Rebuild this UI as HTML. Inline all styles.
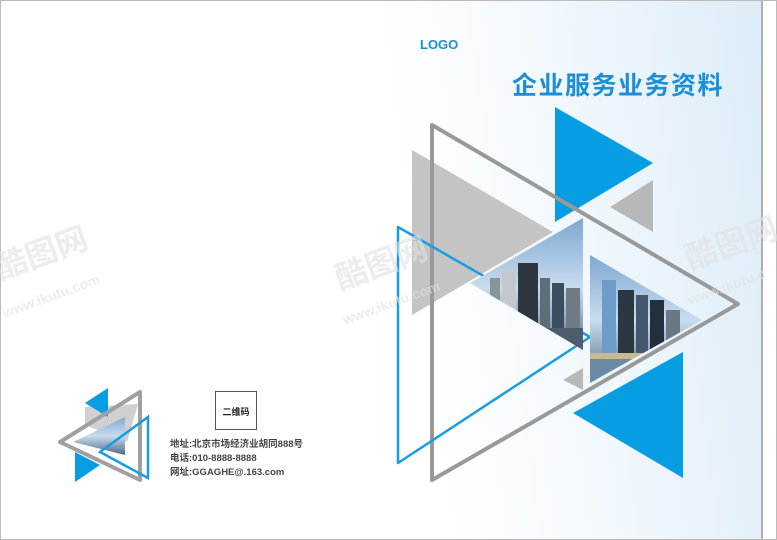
<!DOCTYPE html>
<html><head><meta charset="utf-8"><style>
html,body{margin:0;padding:0;background:#fff;}
svg{display:block;}
text{font-family:"Liberation Sans","Noto Sans CJK SC",sans-serif;}
</style></head><body>
<svg width="777" height="540" viewBox="0 0 777 540" xmlns="http://www.w3.org/2000/svg">
<defs>
<linearGradient id="bg" x1="0" y1="0.2" x2="1" y2="0">
<stop offset="0" stop-color="#ffffff"/><stop offset="0.45" stop-color="#f1f8fd"/><stop offset="1" stop-color="#dcecf8"/></linearGradient>
<linearGradient id="sky" x1="0" y1="0" x2="0" y2="1">
<stop offset="0" stop-color="#7ea8d2"/><stop offset="0.5" stop-color="#c9dcee"/><stop offset="1" stop-color="#4a6a86"/></linearGradient>
<pattern id="city" width="130" height="140" patternUnits="userSpaceOnUse" x="470" y="218">
<rect width="130" height="140" fill="url(#sky)"/>
<rect x="20" y="60" width="10" height="50" fill="#8a929c"/>
<rect x="32" y="50" width="14" height="60" fill="#c4c8ce"/>
<rect x="48" y="45" width="20" height="70" fill="#2e3640"/>
<rect x="70" y="60" width="10" height="55" fill="#5d6d7a"/>
<rect x="82" y="65" width="12" height="50" fill="#3b4d5e"/>
<rect x="96" y="70" width="14" height="45" fill="#707b86"/>
<rect x="0" y="110" width="130" height="30" fill="#4c5d6e"/>
</pattern>
<pattern id="city2" width="140" height="130" patternUnits="userSpaceOnUse" x="590" y="255">
<rect width="140" height="130" fill="url(#sky)"/>
<rect x="12" y="25" width="14" height="80" fill="#6d9ccb"/>
<rect x="28" y="35" width="16" height="70" fill="#2c3744"/>
<rect x="46" y="40" width="12" height="65" fill="#45586b"/>
<rect x="60" y="45" width="14" height="60" fill="#22303d"/>
<rect x="76" y="55" width="14" height="50" fill="#6a7784"/>
<rect x="0" y="100" width="140" height="30" fill="#6b8aa5"/>
<rect x="0" y="98" width="60" height="6" fill="#c9b98f"/>
</pattern>
</defs>
<rect width="777" height="540" fill="#fff"/>
<rect x="390" y="0" width="372" height="540" fill="url(#bg)"/>
<line x1="762" y1="0" x2="762" y2="540" stroke="#999" stroke-width="1.5"/>
<rect x="0.5" y="0.5" width="776" height="539" fill="none" stroke="#bbb" stroke-width="1"/>

<text x="420" y="49" font-size="13" font-weight="bold" fill="#1a8fd8">LOGO</text>
<text x="512" y="94" font-size="25" font-weight="bold" fill="#1a8fd8" letter-spacing="1.5">企业服务业务资料</text>

<polygon points="412,150 553,232 412,315" fill="#c4c4c4"/>
<polygon points="555,107 653,163 555,222" fill="#069de3"/>
<polygon points="610,207 653,180 653,232" fill="#b8b8b8"/>
<polygon points="432,125 738,304 432,480" fill="none" stroke="#999" stroke-width="4" stroke-linejoin="round"/>
<polygon points="398,227 590,337 398,463" fill="none" stroke="#169de3" stroke-width="2.5" stroke-linejoin="round"/>
<polygon points="470,283 583,218 583,350" fill="url(#city)"/>
<polygon points="590,255 702,320 590,383" fill="url(#city2)"/>
<polygon points="563,380 583,368 583,390" fill="#b8b8b8"/>
<polygon points="573,413 683,352 683,478" fill="#069de3"/>

<!-- small logo -->
<polygon points="85,407 138,404 127,442 85,425" fill="#d0d0d0"/>
<polygon points="85,403 108,388 108,417" fill="#069de3"/>
<polygon points="75,452 75,482 100,465" fill="#069de3"/>
<polygon points="60,442 140,392 140,480 Z" fill="none" stroke="#a0a0a0" stroke-width="4" stroke-linejoin="round"/>
<polygon points="73,442 125,417 125,455" fill="url(#sky)"/>
<polygon points="100,452 148,417 148,478" fill="none" stroke="#169de3" stroke-width="2.5"/>

<rect x="215.5" y="391.5" width="41" height="38" fill="#fff" stroke="#555" stroke-width="1"/>
<text x="236" y="415" font-size="9" font-weight="bold" fill="#222" text-anchor="middle">二维码</text>
<text x="170" y="447" font-size="9.5" font-weight="bold" fill="#444">地址:北京市场经济业胡同888号</text>
<text x="170" y="461" font-size="9.5" font-weight="bold" fill="#444">电话:010-8888-8888</text>
<text x="170" y="475" font-size="9.5" font-weight="bold" fill="#444">网址:GGAGHE@.163.com</text>

<g fill="#e2e2e2" opacity="0.6" font-weight="bold">
<text x="0" y="280" font-size="32" transform="rotate(-20 0 280)">酷图网</text>
<text x="5" y="318" font-size="14" transform="rotate(-20 5 318)">www.ikutu.com</text>
<text x="340" y="290" font-size="32" transform="rotate(-20 340 290)">酷图网</text>
<text x="345" y="325" font-size="14" transform="rotate(-20 345 325)">www.ikutu.com</text>
<text x="690" y="270" font-size="32" transform="rotate(-20 690 270)">酷图网</text>
<text x="690" y="305" font-size="14" transform="rotate(-20 690 305)">www.ikutu.c</text>
</g>
</svg>
</body></html>
